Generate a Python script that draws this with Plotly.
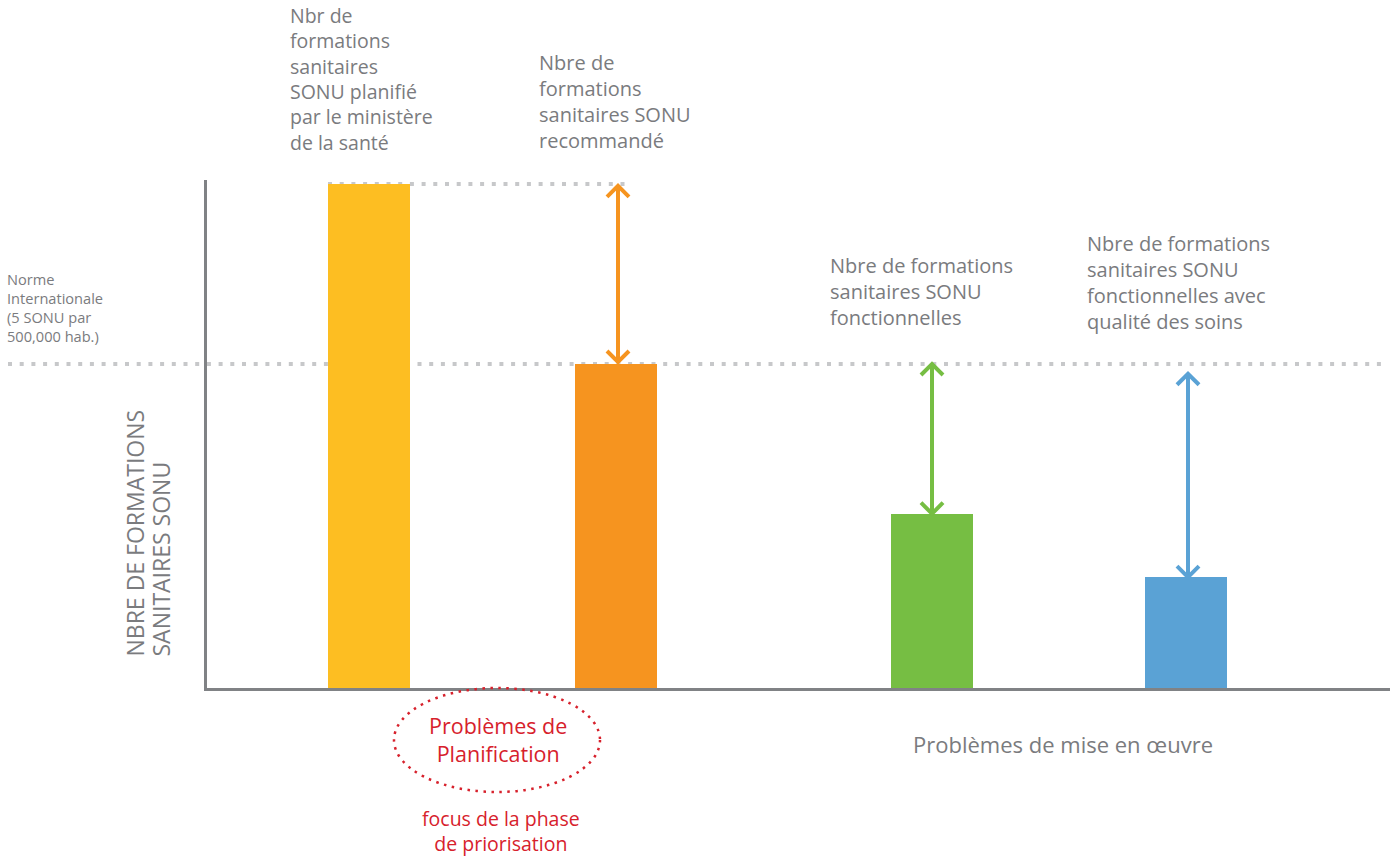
import plotly.graph_objects as go

# ---- data (relative units, international norm = 5 SONU per 500,000 hab.) ----
categories = ["Planifié", "Recommandé", "Fonctionnelles", "Fonctionnelles avec qualité"]
values = [7.78, 5.0, 2.69, 1.71]
norm_value = 5.0
blue_arrow_top = 4.85
bar_colors = ["#FDBE22", "#F6941F", "#76BE43", "#5AA2D5"]

label_planned = ["Nbr de", "formations", "sanitaires", "SONU planifié", "par le ministère", "de la santé"]
label_recommended = ["Nbre de", "formations", "sanitaires SONU", "recommandé"]
label_functional = ["Nbre de formations", "sanitaires SONU", "fonctionnelles"]
label_quality = ["Nbre de formations", "sanitaires SONU", "fonctionnelles avec", "qualité des soins"]
label_norm = ["Norme", "Internationale", "(5 SONU par", "500,000 hab.)"]
label_yaxis = ["NBRE DE FORMATIONS", "SANITAIRES SONU"]
label_planif = ["Problèmes de", "Planification"]
label_focus = ["focus de la phase", "de priorisation"]
label_impl = ["Problèmes de mise en œuvre"]

# layout constants
W, H = 1395, 859
L, R, T, B = 207, 5, 180, 171
PW, PH = W - L - R, H - T - B
YMAX = 7.84
XMAX = PW
x_pos = [162, 409, 724.5, 978.5]
bar_w = 82
PXY = PH / YMAX  # pixels per y unit

GRAY = "#7A7B7E"
RED = "#D7212C"
DOT = "#C7C8CA"
FONT = "Open Sans"


def px(xp):
    return (xp - L) / PW


def py(yp):
    return (H - B - yp) / PH


fig = go.Figure()
fig.add_trace(go.Bar(x=x_pos, y=values, width=bar_w, marker=dict(color=bar_colors, line=dict(width=0)),
                     hoverinfo="text", hovertext=categories, showlegend=False))

# arrows (double headed) computed from values
gap = 2 / PXY
hw = 11
hh = 11 / PXY
arrows = [
    (411, values[0] - gap, values[1] + gap, bar_colors[1]),
    (725, norm_value, values[2], bar_colors[2]),
    (981, blue_arrow_top, values[3], bar_colors[3]),
]
for ax_, ytop, ybot, col in arrows:
    xs = [ax_, ax_, None, ax_ - hw, ax_, ax_ + hw, None, ax_ - hw, ax_, ax_ + hw]
    ys = [ytop, ybot, None, ytop - hh, ytop, ytop - hh, None, ybot + hh, ybot, ybot + hh]
    fig.add_trace(go.Scatter(x=xs, y=ys, mode="lines", line=dict(color=col, width=4),
                             hoverinfo="skip", showlegend=False))

shapes = [
    dict(type="line", xref="x", yref="y", x0=x_pos[0] - bar_w / 2, x1=421, y0=values[0], y1=values[0],
         line=dict(color=DOT, width=4, dash="4px,7.7px"), layer="below"),
    dict(type="line", xref="paper", yref="paper", x0=px(8), x1=px(1385), y0=norm_value / YMAX,
         y1=norm_value / YMAX, line=dict(color=DOT, width=4, dash="4px,7.7px"), layer="below"),
    dict(type="circle", xref="paper", yref="paper", x0=px(394), x1=px(600), y0=py(688), y1=py(792),
         line=dict(color=RED, width=2.5, dash="2.5px,5.5px")),
]

ann = []


def block(lines, x, yc, size, color=GRAY, xanchor="left", align="left"):
    ann.append(dict(text="<br>".join(lines), x=px(x), y=py(yc - 2), xref="paper", yref="paper",
                    showarrow=False, xanchor=xanchor, yanchor="middle", align=align, borderpad=0,
                    font=dict(family=FONT, size=size, color=color)))


block(label_planned, 289, 81, 19.5)
block(label_recommended, 538, 103, 20)
block(label_functional, 829, 293, 20)
block(label_quality, 1086, 284, 20)
block(label_norm, 6, 309, 14.6)
block(label_planif, 498, 741, 21.5, color=RED, xanchor="center", align="center")
block(label_focus, 501, 833, 19.5, color=RED, xanchor="center", align="center")
block(label_impl, 1063, 746, 22, xanchor="center", align="center")

for i, s in enumerate(label_yaxis):
    ann.append(dict(text=s, x=px(134 + i * 26), y=py(658), xref="paper", yref="paper", showarrow=False,
                    xanchor="center", yanchor="bottom", textangle=-90, height=24, borderpad=0,
                    font=dict(family=FONT, size=23, color=GRAY)))

fig.update_layout(
    width=W, height=H,
    margin=dict(l=L, r=R, t=T, b=B, pad=0),
    paper_bgcolor="white", plot_bgcolor="white",
    xaxis=dict(range=[0, XMAX], showgrid=False, zeroline=False, showticklabels=False, ticks="",
               showline=True, linecolor="#808285", linewidth=3, fixedrange=True),
    yaxis=dict(range=[0, YMAX], showgrid=False, zeroline=False, showticklabels=False, ticks="",
               showline=True, linecolor="#808285", linewidth=3, fixedrange=True),
    shapes=shapes,
    annotations=ann,
    bargap=0,
)

fig.write_html("out.html")
